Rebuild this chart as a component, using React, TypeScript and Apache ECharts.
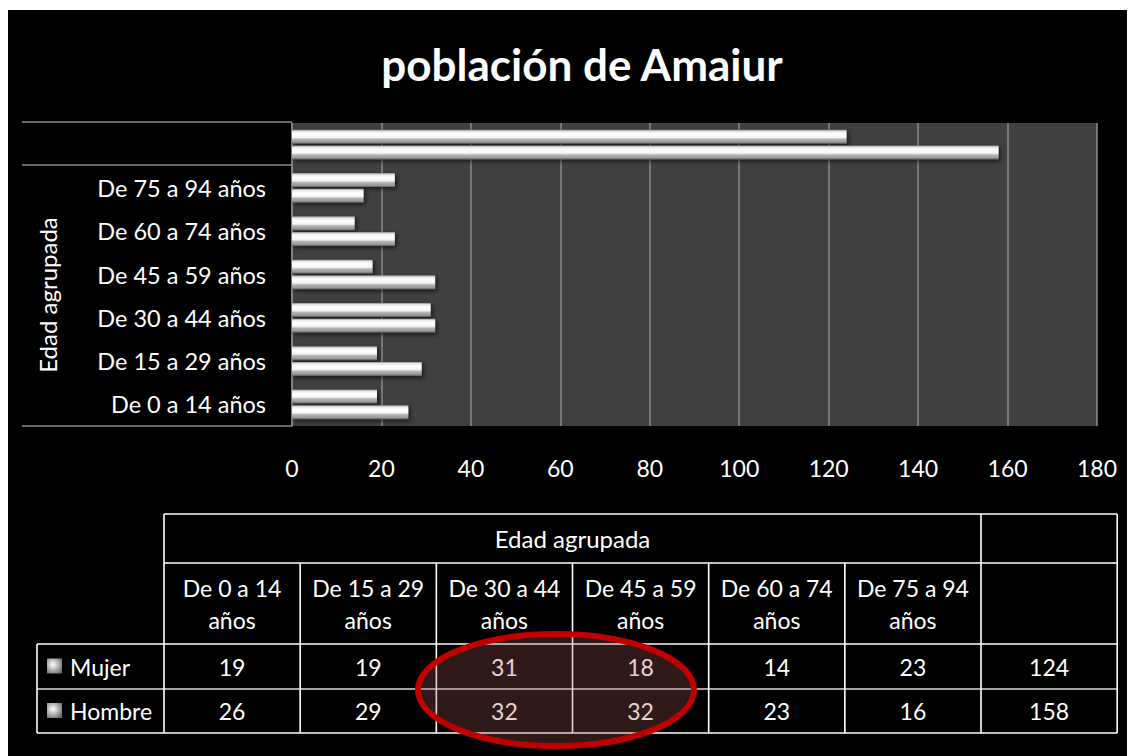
import React, { useEffect, useRef } from "react";
import * as echarts from "echarts";

// ---- data ----
const ageGroups = [
  "De 0 a 14 años",
  "De 15 a 29 años",
  "De 30 a 44 años",
  "De 45 a 59 años",
  "De 60 a 74 años",
  "De 75 a 94 años",
];
const totalCategory = "";
const mujer = [19, 19, 31, 18, 14, 23];
const hombre = [26, 29, 32, 32, 23, 16];
const mujerTotal = 124;
const hombreTotal = 158;
const seriesNames = ["Mujer", "Hombre"];
const xTicks = { min: 0, max: 180, interval: 20 };
const titleText = "población de Amaiur";
const groupTitle = "Edad agrupada";

const W = 1127;
const H = 746;
const FONT = "Lato, 'Open Sans', sans-serif";

function barGradient() {
  return new echarts.graphic.LinearGradient(0, 0, 0, 1, [
    { offset: 0, color: "#8c8c8c" },
    { offset: 0.12, color: "#e8e8e8" },
    { offset: 0.3, color: "#ffffff" },
    { offset: 0.55, color: "#f4f4f4" },
    { offset: 0.68, color: "#b4b4b4" },
    { offset: 0.88, color: "#9a9a9a" },
    { offset: 1, color: "#5a5a5a" },
  ]);
}

function keyGradient() {
  return new echarts.graphic.RadialGradient(0.4, 0.4, 0.7, [
    { offset: 0, color: "#ffffff" },
    { offset: 1, color: "#6e6e6e" },
  ]);
}

function buildGraphics() {
  const els: any[] = [];
  const lineGray = "#8a8a8a";
  // multi-level category lines on the left
  [112, 155, 416].forEach((y) => {
    els.push({
      type: "line",
      shape: { x1: 14, y1: y, x2: 284, y2: y },
      style: { stroke: lineGray, lineWidth: 1.5 },
    });
  });
  els.push({
    type: "text",
    x: 39,
    y: 285,
    rotation: Math.PI / 2,
    style: {
      text: groupTitle,
      fill: "#ffffff",
      font: `24px ${FONT}`,
      align: "center",
      verticalAlign: "middle",
      textAlign: "center",
      textVerticalAlign: "middle",
    },
  });

  // data table
  const TL = 156;
  const CW = 136.17;
  const LL = 29;
  const rowY = [504, 553, 634, 679, 723];
  const nCols = ageGroups.length;
  const colX = Array.from({ length: nCols + 2 }, (_, i) => TL + i * CW);
  const right = colX[nCols + 1];
  const white = "#ffffff";
  const lw = 1.6;
  const hline = (x1: number, x2: number, y: number, c = white) =>
    els.push({ type: "line", shape: { x1, y1: y, x2, y2: y }, style: { stroke: c, lineWidth: lw } });
  const vline = (x: number, y1: number, y2: number) =>
    els.push({ type: "line", shape: { x1: x, y1, x2: x, y2 }, style: { stroke: white, lineWidth: lw } });

  hline(TL, right, rowY[0]);
  hline(TL, right, rowY[1]);
  hline(LL, right, rowY[2]);
  hline(LL, right, rowY[3], "#dddddd");
  hline(LL, right, rowY[4]);
  vline(LL, rowY[2], rowY[4]);
  vline(TL, rowY[0], rowY[4]);
  for (let i = 1; i < nCols; i++) vline(colX[i], rowY[1], rowY[4]);
  vline(colX[nCols], rowY[0], rowY[4]);
  vline(right, rowY[0], rowY[4]);

  const txt = (text: string, x: number, y: number, align = "center", size = 23) =>
    els.push({
      type: "text",
      style: {
        text,
        x,
        y,
        fill: "#ffffff",
        font: `${size}px ${FONT}`,
        align,
        verticalAlign: "middle",
        textAlign: align,
        textVerticalAlign: "middle",
      },
    });

  txt(groupTitle, (TL + colX[nCols]) / 2, (rowY[0] + rowY[1]) / 2, "center", 24);
  ageGroups.forEach((g, i) => {
    const cx = colX[i] + CW / 2;
    const cy = (rowY[1] + rowY[2]) / 2;
    const parts = g.split(" años");
    txt(parts[0], cx, cy - 16);
    txt("años", cx, cy + 16);
  });
  const rows = [
    { name: seriesNames[0], vals: mujer, total: mujerTotal },
    { name: seriesNames[1], vals: hombre, total: hombreTotal },
  ];
  rows.forEach((r, ri) => {
    const cy = (rowY[2 + ri] + rowY[3 + ri]) / 2;
    els.push({
      type: "rect",
      shape: { x: 39, y: cy - 8, width: 15, height: 15 },
      style: { fill: keyGradient() },
    });
    txt(r.name, 62, cy, "left");
    r.vals.forEach((v, i) => txt(String(v), colX[i] + CW / 2, cy));
    txt(String(r.total), colX[nCols] + CW / 2, cy);
  });

  // highlight ellipse
  els.push({
    type: "ellipse",
    shape: { cx: 548, cy: 680, rx: 138, ry: 56 },
    style: { fill: "rgba(170,90,90,0.28)", stroke: "#c00000", lineWidth: 6 },
    z: 100,
  });
  return els;
}

export default function App() {
  const ref = useRef<HTMLDivElement>(null);
  useEffect(() => {
    if (!ref.current) return;
    const chart = echarts.init(ref.current, undefined, { renderer: "svg" });
    const cats = [...ageGroups, totalCategory];
    chart.setOption({
      animation: false,
      backgroundColor: "#000000",
      title: {
        text: titleText,
        left: 569,
        top: 27,
        textAlign: "center",
        textStyle: { color: "#ffffff", fontFamily: FONT, fontWeight: "bold", fontSize: 44 },
      },
      grid: {
        left: 284,
        top: 113,
        width: 805,
        height: 303,
        show: true,
        backgroundColor: "#404040",
        borderWidth: 0,
      },
      xAxis: {
        type: "value",
        min: xTicks.min,
        max: xTicks.max,
        interval: xTicks.interval,
        axisLine: { show: false },
        axisTick: { show: false },
        splitLine: { lineStyle: { color: "#8a8a8a", width: 1.5 } },
        axisLabel: { color: "#ffffff", fontFamily: FONT, fontSize: 23, margin: 30 },
      },
      yAxis: {
        type: "category",
        data: cats,
        axisLine: { show: true, lineStyle: { color: "#8a8a8a", width: 1.5 } },
        axisTick: { show: false },
        axisLabel: { color: "#ffffff", fontFamily: FONT, fontSize: 23.5, margin: 26 },
      },
      series: [
        {
          name: seriesNames[0],
          type: "bar",
          data: [...mujer, mujerTotal],
          barWidth: 14,
          barGap: "12%",
          itemStyle: {
            color: barGradient(),
            shadowColor: "rgba(0,0,0,0.6)",
            shadowBlur: 4,
            shadowOffsetX: 2,
            shadowOffsetY: 2,
          },
        },
        {
          name: seriesNames[1],
          type: "bar",
          data: [...hombre, hombreTotal],
          barWidth: 14,
          barGap: "12%",
          itemStyle: {
            color: barGradient(),
            shadowColor: "rgba(0,0,0,0.6)",
            shadowBlur: 4,
            shadowOffsetX: 2,
            shadowOffsetY: 2,
          },
        },
      ],
      graphic: buildGraphics(),
    });
    return () => chart.dispose();
  }, []);
  return (
    <div
      ref={ref}
      style={{ width: W, height: H, marginTop: 2 }}
    />
  );
}
